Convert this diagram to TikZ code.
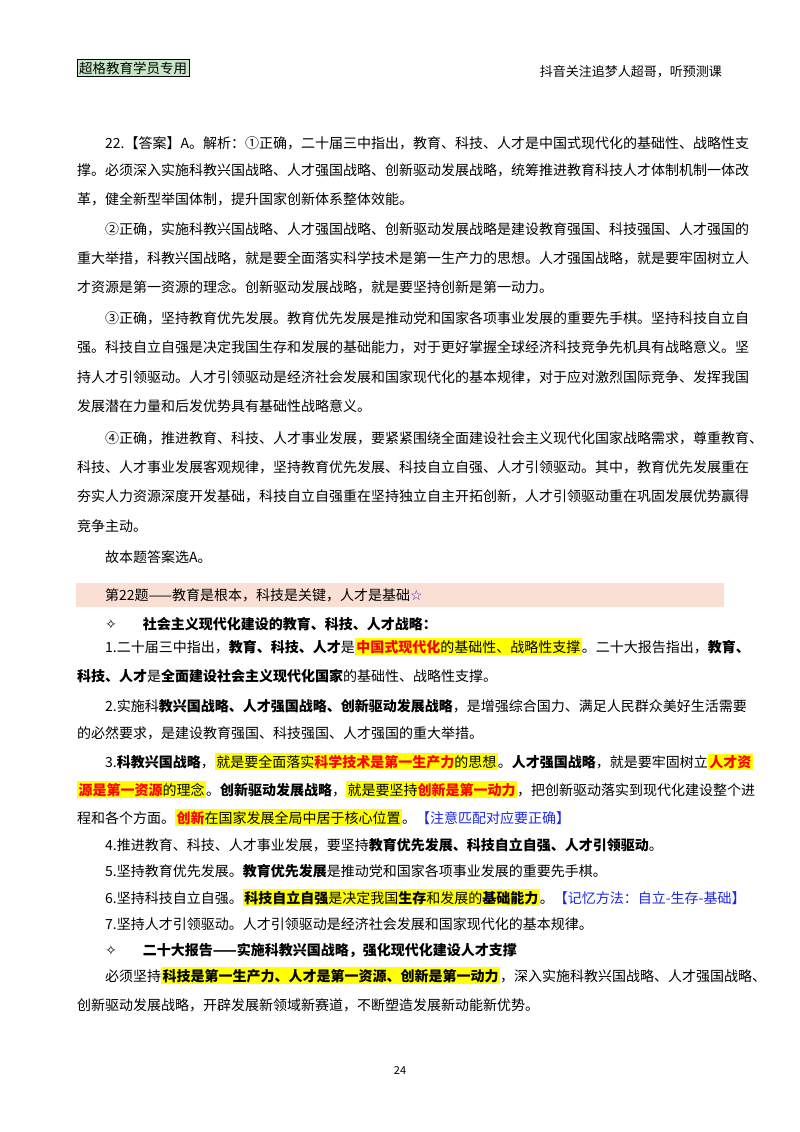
\documentclass[tikz,border=0pt]{standalone}
\usepackage{fontspec}
\setmainfont{Noto Sans CJK SC}
\newfontfamily\symf{DejaVu Sans}
\definecolor{band}{RGB}{250,224,212}
\definecolor{hdr}{RGB}{200,230,200}
\definecolor{hly}{RGB}{255,255,0}
\definecolor{bl}{RGB}{30,40,230}
\newcommand{\hlt}[1]{{\setlength\fboxsep{1.5pt}\colorbox{hly}{#1}}}
\newcommand{\bft}[1]{\textbf{#1}}
\newcommand{\redt}[1]{\textcolor{red}{\textbf{#1}}}
\newcommand{\bluet}[1]{\textcolor{bl}{#1}}
\newcommand{\dmd}{{\symf ✧}}
\tikzset{t/.style={anchor=base west,inner sep=0pt,font=\fontsize{14}{16}\selectfont}}
\begin{document}
\begin{tikzpicture}[x=1pt,y=-1pt]
\useasboundingbox (0,0) rectangle (800,1132);
\fill[white] (0,0) rectangle (800,1132);
\node[draw,fill=hdr,inner sep=2pt,font=\fontsize{13.5}{15}\selectfont] (hd) at (133,68) {超格教育学员专用};
\node[anchor=east,inner sep=0pt,font=\fontsize{13}{15}\selectfont] (hr) at (722,72) {抖音关注追梦人超哥，听预测课};
\node[t] (a1) at (105,148) {22.【答案】A。解析：①正确，二十届三中指出，教育、科技、人才是中国式现代化的基础性、战略性支};
\node[t] (a2) at (77,175) {撑。必须深入实施科教兴国战略、人才强国战略、创新驱动发展战略，统筹推进教育科技人才体制机制一体改};
\node[t] (a3) at (77,204) {革，健全新型举国体制，提升国家创新体系整体效能。};
\node[t] (b1) at (105,234) {②正确，实施科教兴国战略、人才强国战略、创新驱动发展战略是建设教育强国、科技强国、人才强国的};
\node[t] (b2) at (77,263) {重大举措，科教兴国战略，就是要全面落实科学技术是第一生产力的思想。人才强国战略，就是要牢固树立人};
\node[t] (b3) at (77,292) {才资源是第一资源的理念。创新驱动发展战略，就是要坚持创新是第一动力。};
\node[t] (c1) at (105,323) {③正确，坚持教育优先发展。教育优先发展是推动党和国家各项事业发展的重要先手棋。坚持科技自立自};
\node[t] (c2) at (77,352) {强。科技自立自强是决定我国生存和发展的基础能力，对于更好掌握全球经济科技竞争先机具有战略意义。坚};
\node[t] (c3) at (77,382) {持人才引领驱动。人才引领驱动是经济社会发展和国家现代化的基本规律，对于应对激烈国际竞争、发挥我国};
\node[t] (c4) at (77,411) {发展潜在力量和后发优势具有基础性战略意义。};
\node[t] (d1) at (105,443) {④正确，推进教育、科技、人才事业发展，要紧紧围绕全面建设社会主义现代化国家战略需求，尊重教育、};
\node[t] (d2) at (77,472) {科技、人才事业发展客观规律，坚持教育优先发展、科技自立自强、人才引领驱动。其中，教育优先发展重在};
\node[t] (d3) at (77,501) {夯实人力资源深度开发基础，科技自立自强重在坚持独立自主开拓创新，人才引领驱动重在巩固发展优势赢得};
\node[t] (d4) at (77,531) {竞争主动。};
\node[t] (e1) at (105,562) {故本题答案选A。};
\fill[band] (76,583) rectangle (724,607);
\node[t] (f0) at (105,600) {第22题——教育是根本，科技是关键，人才是基础\textcolor{bl!60!violet}{{\symf ☆}}};
\node[t] (g0) at (105,629) {\dmd\hspace{26pt}\bft{社会主义现代化建设的教育、科技、人才战略：}};
\node[t] (g1) at (105,652) {1.二十届三中指出，\bft{教育、科技、人才}是\hlt{\redt{中国式现代化}的基础性、战略性支撑}。二十大报告指出，\bft{教育、}};
\node[t] (g2) at (77,681) {\bft{科技、人才}是\bft{全面建设社会主义现代化国家}的基础性、战略性支撑。};
\node[t] (h1) at (105,711) {2.实施科\bft{教兴国战略、人才强国战略、创新驱动发展战略}，是增强综合国力、满足人民群众美好生活需要};
\node[t] (h2) at (77,738) {的必然要求，是建设教育强国、科技强国、人才强国的重大举措。};
\node[t] (i1) at (105,767) {3.\bft{科教兴国战略}，\hlt{就是要全面落实\redt{科学技术是第一生产力}的思想}。\bft{人才强国战略}，就是要牢固树立\hlt{\redt{人才资}}};
\node[t] (i2) at (77,795) {\hlt{\redt{源是第一资源}的理念}。\bft{创新驱动发展战略}，\hlt{就是要坚持\redt{创新是第一动力}}，把创新驱动落实到现代化建设整个进};
\node[t] (i3) at (77,823) {程和各个方面。\hlt{\redt{创新}在国家发展全局中居于核心位置}。\bluet{【注意匹配对应要正确】}};
\node[t] (j1) at (105,850) {4.推进教育、科技、人才事业发展，要坚持\bft{教育优先发展、科技自立自强、人才引领驱动}。};
\node[t] (k1) at (105,876) {5.坚持教育优先发展。\bft{教育优先发展}是推动党和国家各项事业发展的重要先手棋。};
\node[t] (l1) at (105,903) {6.坚持科技自立自强。\hlt{\bft{科技自立自强}是决定我国\bft{生存}和发展的\bft{基础能力}}。\bluet{【记忆方法：自立-生存-基础】}};
\node[t] (m1) at (105,929) {7.坚持人才引领驱动。人才引领驱动是经济社会发展和国家现代化的基本规律。};
\node[t] (n0) at (105,955) {\dmd\hspace{26pt}\bft{二十大报告——实施科教兴国战略，强化现代化建设人才支撑}};
\node[t] (o1) at (105,981) {必须坚持\hlt{\bft{科技是第一生产力、人才是第一资源、创新是第一动力}}，深入实施科教兴国战略、人才强国战略、};
\node[t] (o2) at (77,1010) {创新驱动发展战略，开辟发展新领域新赛道，不断塑造发展新动能新优势。};
\node[inner sep=0pt,font=\fontsize{11}{13}\selectfont] (pg) at (400,1070) {24};
\end{tikzpicture}
\end{document}
